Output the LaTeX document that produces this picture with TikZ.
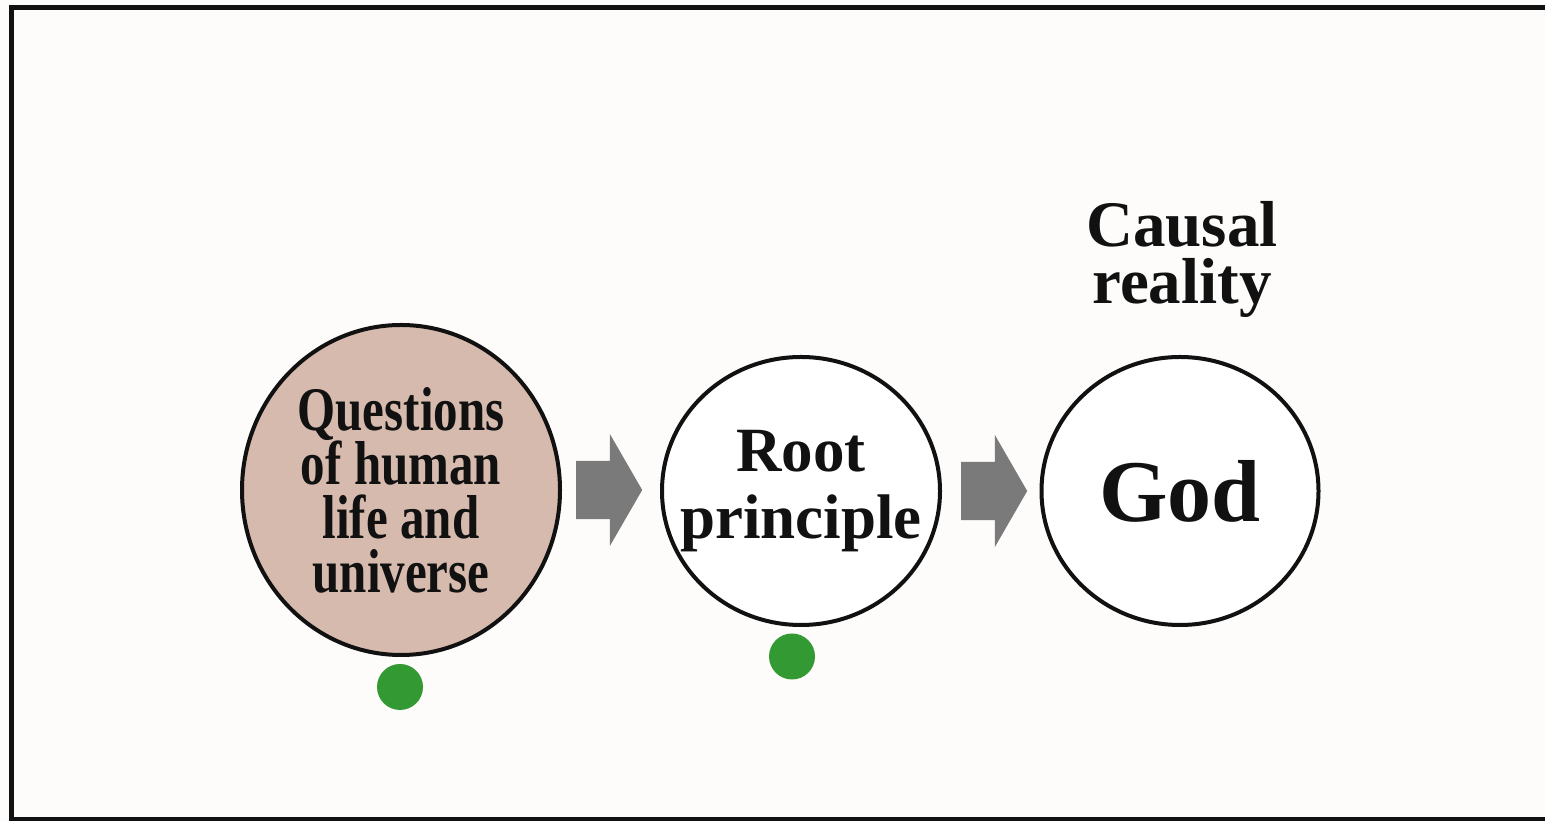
\documentclass[tikz,border=0pt]{standalone}
\usepackage{fontspec}
\setmainfont{Liberation Serif}
\newfontfamily\narrowserif[FakeStretch=0.79]{Liberation Serif}
\usetikzlibrary{shapes.geometric,shapes.arrows}
\definecolor{paper}{RGB}{253,252,251}
\definecolor{rose}{RGB}{214,186,173}
\definecolor{arrowgray}{RGB}{122,122,122}
\definecolor{dotgreen}{RGB}{51,153,51}
\definecolor{ink}{RGB}{17,17,17}

\begin{document}
\begin{tikzpicture}[x=1pt,y=1pt,
  stage/.style={draw=ink, line width=4pt, ellipse, inner xsep=-30pt, inner ysep=0pt, align=center, text=ink},
  blockarrow/.style={single arrow, fill=arrowgray, draw=none, anchor=tail,
    inner xsep=0pt, inner ysep=29pt, minimum width=0pt, minimum height=66pt,
    single arrow head extend=27pt, single arrow tip angle=120},
  marker/.style={circle, fill=dotgreen, minimum size=46pt, inner sep=0pt}]
\fill[paper] (0,0) rectangle (1545,821);
\useasboundingbox (0,0) rectangle (1545,821);
\draw[ink, line width=5pt] (1545,813.5) -- (11.5,813.5) -- (11.5,1.5) -- (1545,1.5);

\node[stage, fill=rose, minimum width=318pt, minimum height=330pt,
  font=\narrowserif\bfseries\fontsize{62}{54}\selectfont] (questions) at (401,331)
  {Questions\\of human\\life and\\universe};
\node[stage, fill=white, minimum width=278pt, minimum height=268pt,
  font=\bfseries\fontsize{63}{67}\selectfont] (root) at (801,330) {Root\\principle};
\node[stage, fill=white, minimum width=277pt, minimum height=268pt,
  font=\bfseries\fontsize{88}{96}\selectfont] (god) at (1180,330) {God};
\node[align=center, text=ink, font=\bfseries\fontsize{65}{57}\selectfont] (causal) at (1182,562) {Causal\\reality};

\node[blockarrow] (arrowA) at ([xshift=14pt]questions.east) {};
\node[blockarrow] (arrowB) at ([xshift=19pt]root.east) {};

\node[marker] (dotA) at (400,134) {};
\node[marker] (dotB) at (792,164.5) {};
\end{tikzpicture}
\end{document}
